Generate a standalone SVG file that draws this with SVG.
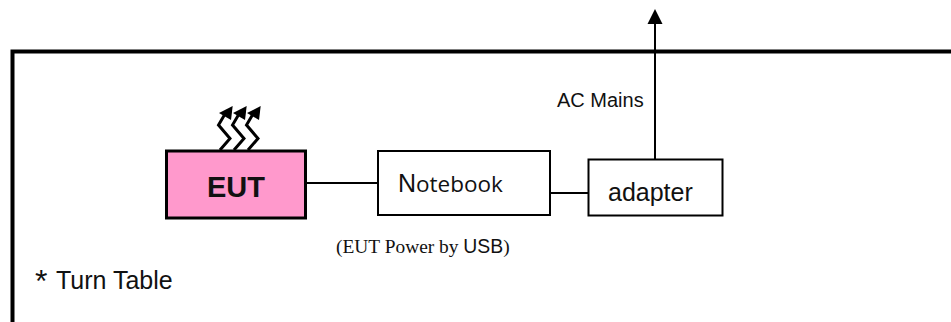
<svg xmlns="http://www.w3.org/2000/svg" width="951" height="322" viewBox="0 0 951 322">
<style>
.box{fill:#fff;stroke:#000;stroke-width:2}
.c{fill:none;stroke:#000;stroke-width:2}
.t{font-family:"Liberation Sans",Arial,sans-serif;fill:#111}
.heat{fill:none;stroke:#000;stroke-width:3}
</style>
<defs>
<g id="heatArrow">
<path class="heat" d="M220 150L230 138.500L218.500 125L225 114"/>
<path d="M232.700 106L231 120L219 113Z" fill="#000"/>
</g>
</defs>
<rect width="951" height="322" fill="#fff"/>
<path id="frame" d="M951 51.500H12.500V322" fill="none" stroke="#000" stroke-width="4"/>
<g id="connectors">
<path class="c" d="M306 183H378"/>
<path class="c" d="M550 193H588"/>
<path class="c" d="M655 159V22"/>
<path d="M655 9L662.500 24H647.500Z" fill="#000"/>
</g>
<g id="eut">
<rect x="166.500" y="151" width="139" height="67" fill="#ff99cc" stroke="#000" stroke-width="3"/>
<text class="t" x="236" y="197" font-size="29" font-weight="700" text-anchor="middle">EUT</text>
<use href="#heatArrow"/>
<use href="#heatArrow" x="14"/>
<use href="#heatArrow" x="28"/>
</g>
<g id="notebook">
<rect class="box" x="378" y="151" width="172" height="64"/>
<text class="t" x="398" y="192" font-size="25">N<tspan font-size="22.500" font-family="'Open Sans','Noto Sans',sans-serif">otebook</tspan></text>
</g>
<g id="adapter">
<rect class="box" x="588.500" y="159.500" width="134" height="56"/>
<text class="t" x="608" y="201" font-size="25">adapter</text>
</g>
<text class="t" x="557" y="107" font-size="20">AC Mains</text>
<text x="336" y="253" font-size="19.400" font-family="'Liberation Serif','Times New Roman',serif" fill="#111">(EUT Power by <tspan font-family="'Liberation Sans',Arial,sans-serif">USB</tspan>)</text>
<text class="t" x="35" y="292" font-size="32">*</text>
<text class="t" x="56" y="289" font-size="25">Turn Table</text>
</svg>
